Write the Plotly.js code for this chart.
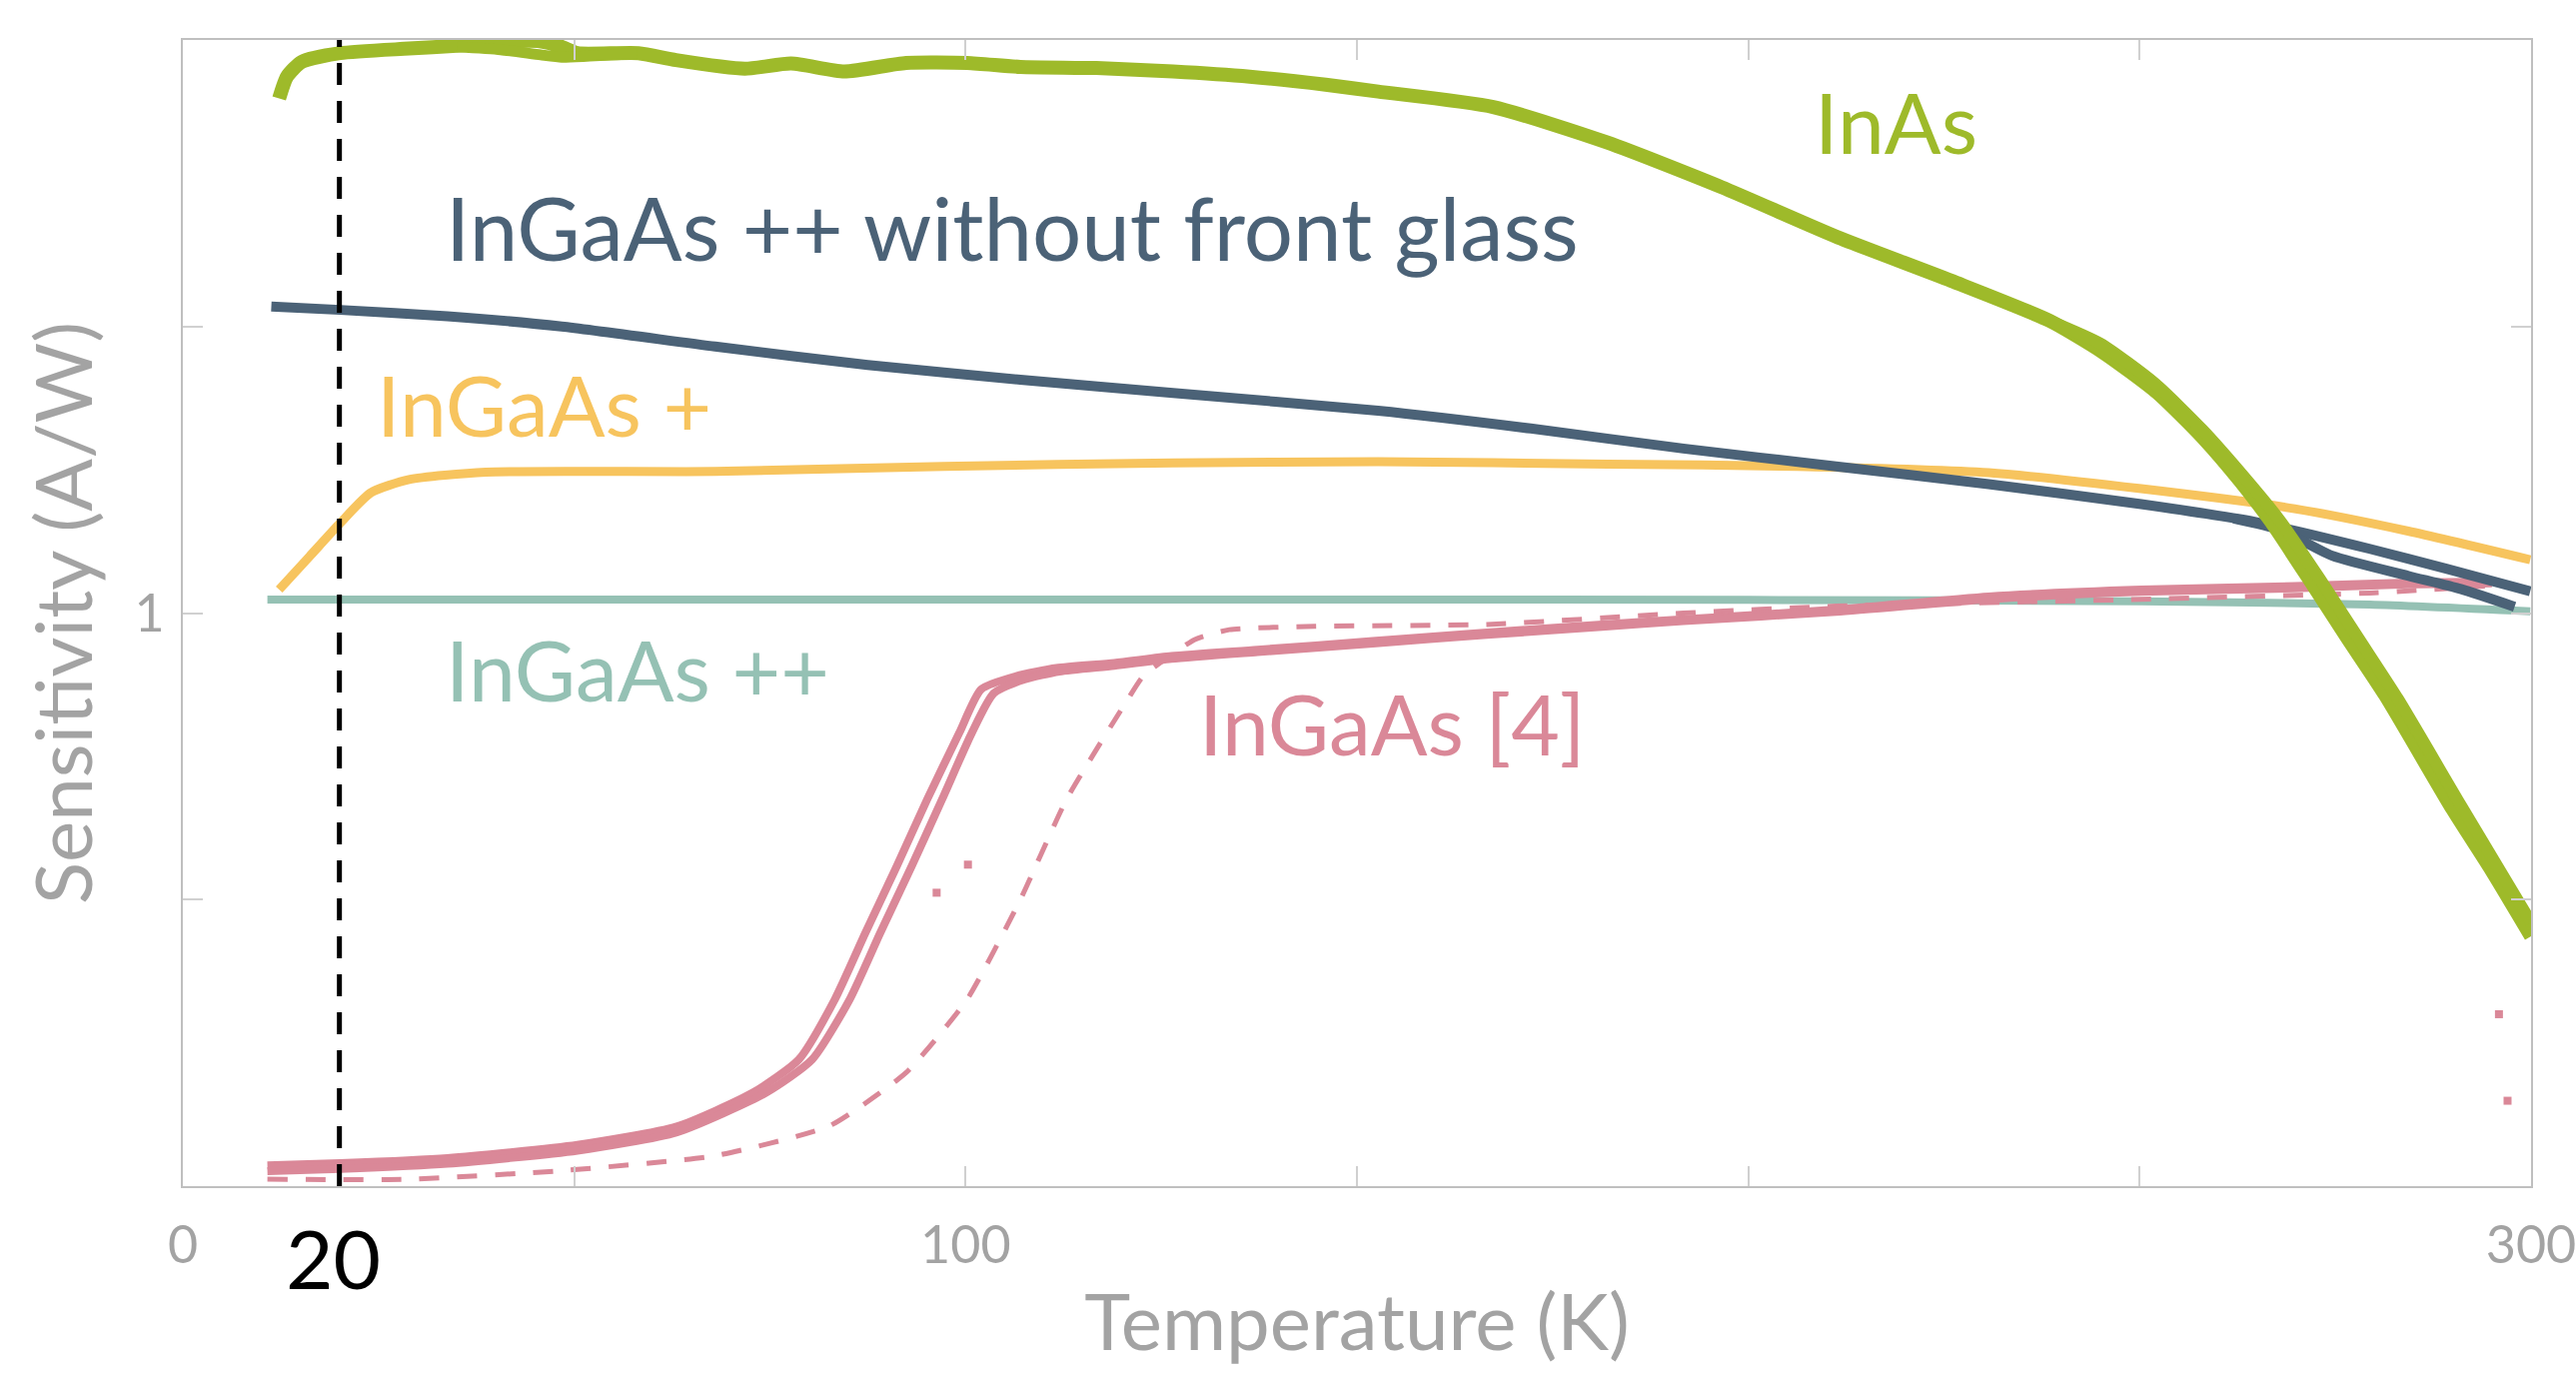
<!DOCTYPE html>
<html>
<head>
<meta charset="utf-8">
<script src="https://cdn.plot.ly/plotly-3.0.1.min.js"></script>
<style>
  html, body { margin: 0; padding: 0; background: #ffffff; }
  #chart { width: 2578px; height: 1376px; }
</style>
</head>
<body>
<div id="chart"></div>
<script>
// ---- Data (Temperature in K, Sensitivity in A/W) ----
const inasT_a = [12.3, 13.3, 15.2, 20.1, 28.9, 35, 40.6, 45.4, 48.4, 50.4, 58.2, 63, 71.8, 77.7, 84.5, 92.4, 100.2, 107, 116.7, 126.5, 136.3, 146, 152.7, 167.4, 182, 196.6, 211.2, 225.9, 238.5, 245.3, 252.2, 258, 262.9, 266.8, 271.7, 276.5, 281.4, 290, 295, 300];
const inasS_a = [1.898, 1.936, 1.962, 1.977, 1.985, 1.990, 1.997, 1.998, 1.988, 1.977, 1.977, 1.965, 1.950, 1.959, 1.945, 1.960, 1.960, 1.953, 1.951, 1.945, 1.936, 1.922, 1.910, 1.883, 1.821, 1.743, 1.657, 1.580, 1.510, 1.455, 1.385, 1.307, 1.229, 1.159, 1.058, 0.957, 0.856, 0.657, 0.55, 0.436];
const inasT_loop = [35, 40.6, 45.7, 48.4, 52, 58];
const inasS_loop = [1.988, 1.983, 1.974, 1.970, 1.972, 1.976];
const inasT_b = [238.5, 245, 252, 258, 263.5, 268, 273, 278, 283, 291, 300];
const inasS_b = [1.51, 1.47, 1.40, 1.32, 1.235, 1.16, 1.06, 0.955, 0.85, 0.665, 0.46];

const noGlassT_a = [11.3, 20.1, 33.8, 48.4, 68, 87.5, 107, 126.5, 152.7, 172.2, 191.7, 211.2, 230.7, 250.2, 264.8, 279.4, 289.3, 299.9];
const noGlassS_a = [1.535, 1.529, 1.518, 1.500, 1.465, 1.433, 1.407, 1.384, 1.353, 1.322, 1.287, 1.256, 1.225, 1.190, 1.159, 1.112, 1.077, 1.038];
const noGlassT_b = [262, 268, 274.6, 284.3, 291, 297.9];
const noGlassS_b = [1.165, 1.145, 1.100, 1.065, 1.042, 1.011];

const plusT = [12.3, 16.2, 20.1, 24, 28.9, 38.7, 68, 97.2, 126.5, 152.7, 182, 206.3, 230.7, 250.2, 269.8, 284.3, 299.9];
const plusS = [1.041, 1.099, 1.157, 1.210, 1.233, 1.246, 1.247, 1.256, 1.262, 1.264, 1.260, 1.256, 1.245, 1.217, 1.182, 1.143, 1.093];

const plusPlusT = [10.8, 152.7, 200, 250.2, 279.4, 299.9];
const plusPlusS = [1.0235, 1.0235, 1.023, 1.0206, 1.0148, 1.003];

const ref4T_a = [10.8, 20.1, 33.8, 50.4, 63.1, 72.8, 78.7, 83.3, 87.2, 91.2, 95.1, 99.2, 102, 106.5, 111.6, 119, 126.3, 137.3, 152, 166.6, 181.3, 191.7, 211.2, 230.7, 250.2, 269.8, 284.3, 295];
const ref4S_a = [0.036, 0.040, 0.049, 0.072, 0.104, 0.163, 0.221, 0.326, 0.442, 0.558, 0.675, 0.791, 0.867, 0.890, 0.904, 0.913, 0.925, 0.936, 0.951, 0.966, 0.980, 0.989, 1.006, 1.029, 1.041, 1.047, 1.053, 1.055];
const ref4T_b = [10.8, 20.1, 33.8, 50.4, 63.1, 74.5, 80.4, 85.2, 89.1, 93.1, 97, 100.8, 103.6, 107.5, 112, 119, 126.3, 137.3, 152, 166.6, 181.3, 191.7, 211.2, 230.7, 250.2, 269.8, 284.3, 295];
const ref4S_b = [0.026, 0.030, 0.039, 0.062, 0.094, 0.163, 0.221, 0.326, 0.442, 0.558, 0.675, 0.791, 0.860, 0.884, 0.898, 0.908, 0.920, 0.932, 0.947, 0.962, 0.976, 0.986, 1.002, 1.024, 1.037, 1.043, 1.050, 1.052];
const ref4DashT = [10.8, 28.9, 48.4, 68, 82.6, 92.4, 100.2, 107, 112.9, 120.7, 122.7, 129.3, 133.7, 144.6, 166.6, 191.7, 211.2, 250.2, 279.4, 294.1];
const ref4DashS = [0.012, 0.012, 0.027, 0.053, 0.105, 0.198, 0.326, 0.50, 0.675, 0.849, 0.890, 0.954, 0.971, 0.977, 0.980, 1.000, 1.012, 1.024, 1.035, 1.047];
const ref4StrayT = [96.3, 100.3, 295.9, 297];
const ref4StrayS = [0.512, 0.561, 0.300, 0.149];

const markerT = 20;
const xTickVals = [0, 50, 100, 150, 200, 250, 300];
const xTickText = ['0', '', '100', '', '', '', '300'];
const yTickVals = [0, 0.5, 1, 1.5, 2];
const yTickText = ['', '', '1', '', ''];

// ---- Styles ----
const C = {
  inas: '#9EBA2A',
  noGlass: '#4B6277',
  plus: '#F7C45E',
  plusPlus: '#95C1B4',
  ref4: '#DA8898',
  axis: '#BFBFBF',
  label: '#A3A3A3'
};
const FONT = 'Lato, "Open Sans", sans-serif';

function line(x, y, color, width, extra) {
  return Object.assign({
    type: 'scatter', mode: 'lines', x: x, y: y, hoverinfo: 'skip',
    line: { color: color, width: width, shape: 'spline', smoothing: 0.6 },
    showlegend: false
  }, extra || {});
}

const data = [
  line(plusPlusT, plusPlusS, C.plusPlus, 8),
  line(plusT, plusS, C.plus, 9),
  line(ref4DashT, ref4DashS, C.ref4, 5, { line: { color: C.ref4, width: 5, dash: '20px,18px', shape: 'spline', smoothing: 0.5 } }),
  line(ref4T_a, ref4S_a, C.ref4, 8),
  line(ref4T_b, ref4S_b, C.ref4, 8),
  { type: 'scatter', mode: 'markers', x: ref4StrayT, y: ref4StrayS, hoverinfo: 'skip', showlegend: false,
    marker: { color: C.ref4, size: 8, symbol: 'square' } },
  line(noGlassT_a, noGlassS_a, C.noGlass, 10),
  line(noGlassT_b, noGlassS_b, C.noGlass, 10),
  line(inasT_a, inasS_a, C.inas, 14),
  line(inasT_loop, inasS_loop, C.inas, 11),
  line(inasT_b, inasS_b, C.inas, 12)
];

const axisCommon = {
  showline: true, linecolor: C.axis, linewidth: 2, mirror: 'ticks',
  ticks: 'inside', ticklen: 20, tickwidth: 2, tickcolor: '#D0D0D0',
  showgrid: false, zeroline: false, tickmode: 'array',
  ticklabeloverflow: 'allow',
  tickfont: { family: FONT, size: 52, color: C.label }
};

const layout = {
  width: 2578, height: 1376,
  paper_bgcolor: '#ffffff', plot_bgcolor: '#ffffff',
  margin: { l: 183, r: 45, t: 40, b: 189 },
  showlegend: false,
  xaxis: Object.assign({}, axisCommon, {
    range: [0, 300], tickvals: xTickVals, ticktext: xTickText,
    ticklabelstandoff: 13,
    title: { text: 'Temperature (K)', font: { family: FONT, size: 78, color: C.label }, standoff: 22 }
  }),
  yaxis: Object.assign({}, axisCommon, {
    range: [0, 2], tickvals: yTickVals, ticktext: yTickText,
    ticklabelstandoff: 6,
    title: { text: 'Sensitivity (A/W)', font: { family: FONT, size: 78, color: C.label }, standoff: 16 }
  }),
  shapes: [{
    type: 'line', xref: 'x', yref: 'paper', x0: markerT, x1: markerT, y0: 0, y1: 1,
    line: { color: '#000000', width: 5, dash: '22px,16px' }, layer: 'above'
  }],
  annotations: [
    { text: 'InAs', x: 208.2, y: 1.858, color: C.inas, size: 84 },
    { text: 'InGaAs ++ without front glass', x: 33.3, y: 1.673, color: C.noGlass, size: 87 },
    { text: 'InGaAs +', x: 24.5, y: 1.364, color: C.plus, size: 84 },
    { text: 'InGaAs ++', x: 33.3, y: 0.903, color: C.plusPlus, size: 84 },
    { text: 'InGaAs [4]', x: 129.6, y: 0.809, color: C.ref4, size: 84 }
  ].map(a => ({
    text: a.text, x: a.x, y: a.y, xref: 'x', yref: 'y', xanchor: 'left', yanchor: 'middle',
    showarrow: false, font: { family: FONT, size: a.size, color: a.color }
  })).concat([{
    text: '20', x: 12.9, y: -0.062, xref: 'x', yref: 'paper', xanchor: 'left', yanchor: 'middle',
    showarrow: false, font: { family: FONT, size: 82, color: '#000000' }
  }])
};

Plotly.newPlot('chart', data, layout, { displayModeBar: false, staticPlot: true });
</script>
</body>
</html>
